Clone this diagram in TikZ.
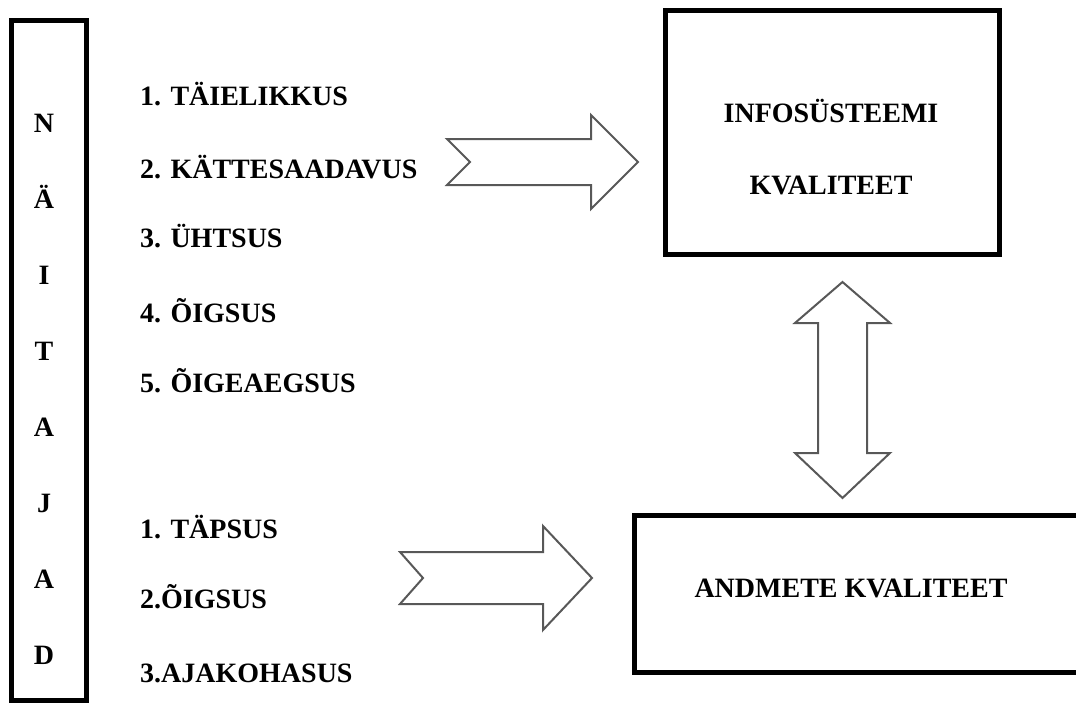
\documentclass[tikz,border=0pt]{standalone}
\usepackage{fontspec}
\setmainfont{Liberation Serif}
\usetikzlibrary{positioning}
\definecolor{arrowgray}{RGB}{88, 88, 88}
\tikzset{
    qbox/.style={
        rectangle, draw=black, line width=5pt, fill=white, inner sep=0pt
    },
    qtext/.style={font=\fontsize{28}{34}\selectfont\bfseries, text=black, inner sep=0pt},
    item/.style={qtext, anchor=base west},
    boxtext/.style={qtext, anchor=base},
    blockarrow/.style={draw=arrowgray, line width=2pt, fill=white, line join=miter},
}

\begin{document}
\begin{tikzpicture}[x=1pt, y=-1pt]
    \useasboundingbox (0,0) rectangle (1076,704);

    % vertical box on the left
    \node[qbox, minimum width=75pt, minimum height=679.5pt] (side) at (49, 360.25) {};
    \foreach \ch [count=\i] in {N,Ä,I,T,A,J,A,D}
        \node[boxtext] (side\i) at (44, 132+76*\i-76) {\ch};

    % indicators
    \node[item] (up1) at (140, 105) {1. TÄIELIKKUS};
    \node[item] (up2) at (140, 178) {2. KÄTTESAADAVUS};
    \node[item] (up3) at (140, 247) {3. ÜHTSUS};
    \node[item] (up4) at (140, 322) {4. ÕIGSUS};
    \node[item] (up5) at (140, 392) {5. ÕIGEAEGSUS};

    \node[item] (low1) at (140, 538) {1. TÄPSUS};
    \node[item] (low2) at (140, 608) {2.ÕIGSUS};
    \node[item] (low3) at (140, 682) {3.AJAKOHASUS};

    % quality boxes
    \node[qbox, minimum width=334pt, minimum height=244pt] (info) at (832.5, 132.5) {};
    \node[boxtext] (infoa) at (831, 122) {INFOSÜSTEEMI};
    \node[boxtext] (infob) at (831, 194) {KVALITEET};

    \node[qbox, minimum width=465pt, minimum height=157pt] (data) at (867, 594) {};
    \node[boxtext] (datatext) at (851, 597) {ANDMETE KVALITEET};

    % block arrows
    \draw[blockarrow] (447,139) -- (591,139) -- (591,115) -- (638,162)
        -- (591,209) -- (591,185) -- (447,185) -- (470,162) -- cycle;
    \draw[blockarrow] (400,552) -- (543,552) -- (543,526) -- (592,578)
        -- (543,630) -- (543,604) -- (400,604) -- (423,578) -- cycle;
    \draw[blockarrow] (842.5,282) -- (890,323) -- (867,323) -- (867,453) -- (890,453)
        -- (842.5,498) -- (795,453) -- (818,453) -- (818,323) -- (795,323) -- cycle;
\end{tikzpicture}
\end{document}
